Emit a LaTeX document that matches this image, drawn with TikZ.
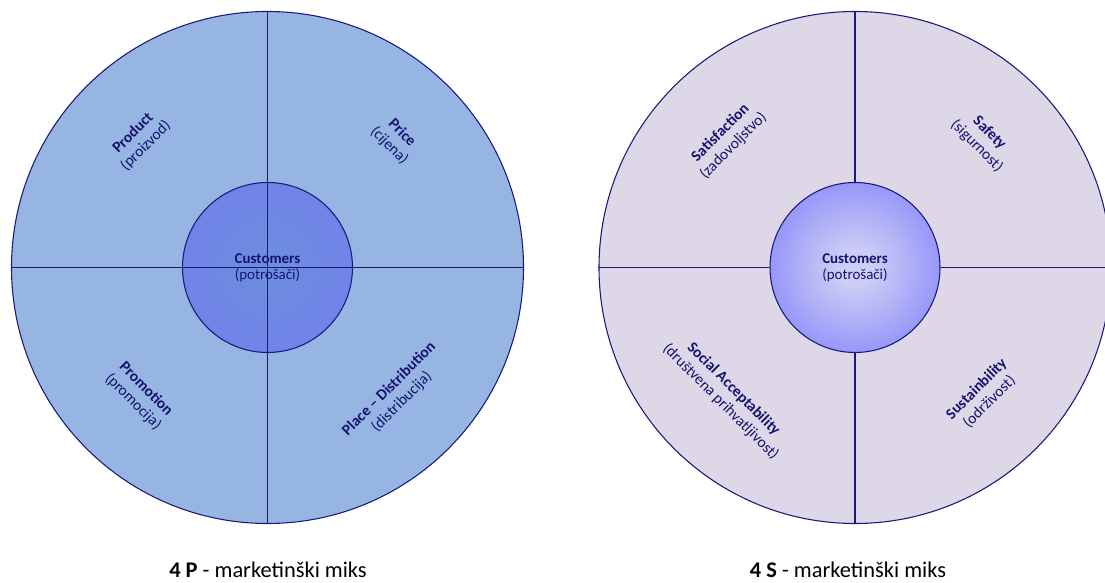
\documentclass[tikz,border=0pt]{standalone}
\usepackage{fontspec}
\setmainfont{Carlito}
\usepackage{tikz}
\usetikzlibrary{positioning}

\definecolor{navyline}{RGB}{25,25,120}
\definecolor{navytext}{RGB}{20,20,110}
\definecolor{ringP}{RGB}{150,181,227}
\definecolor{ringS}{RGB}{221,215,232}
\definecolor{glowPin}{RGB}{108,142,220}
\definecolor{glowPout}{RGB}{118,120,244}
\definecolor{glowSin}{RGB}{205,205,245}
\definecolor{glowSout}{RGB}{84,84,255}
\pgfdeclareradialshading{glowP}{\pgfpointorigin}{color(0bp)=(glowPin); color(50bp)=(glowPout)}
\pgfdeclareradialshading{glowS}{\pgfpointorigin}{color(0bp)=(glowSin); color(5bp)=(glowSin); color(50bp)=(glowSout)}

\begin{document}
\begin{tikzpicture}[x=0.75pt,y=0.75pt,
  ring/.style={circle,draw=navyline,line width=0.8pt,inner sep=0pt,minimum size=384pt},
  hub/.style={circle,draw=navyline,line width=0.8pt,inner sep=0pt,minimum size=127.5pt,
    align=center,text=navytext,font=\fontsize{11.2}{12}\selectfont},
  lbl/.style={align=center,text=navytext,font=\fontsize{11.6}{13.6}\selectfont},
  cross/.style={navyline,line width=1.1pt},
  mixcap/.style={anchor=base,font=\fontsize{16.8}{18}\selectfont}]
\clip (0,0) rectangle (1105,582);
%----4P----%
\node[ring,fill=ringP] (p) at (267.5,314.5) {};
\node[hub,shading=glowP] (pc) at (267.5,314.5) {\textbf{Customers}\\(potrošači)};
\draw[cross] (p.north) -- (p.south);
\draw[cross] (p.west) -- (p.east);
\node[lbl,rotate=45] (prod) at (139.5,442.5) {\textbf{Product}\\(proizvod)};
\node[lbl,rotate=-45] (price) at (395.5,442.5) {\textbf{Price}\\(cijena)};
\node[lbl,rotate=-45] (promo) at (139.5,186.5) {\textbf{Promotion}\\(promocija)};
\node[lbl,rotate=45] (place) at (395.5,186.5) {\textbf{Place – Distribution}\\(distribucija)};
%----4S----%
\node[ring,fill=ringS] (s) at (855,314.5) {};
\node[hub,shading=glowS] (sc) at (855,314.5) {\textbf{Customers}\\(potrošači)};
\draw[cross] (s.north) -- (sc.north);
\draw[cross] (sc.south) -- (s.south);
\draw[cross] (s.west) -- (sc.west);
\draw[cross] (sc.east) -- (s.east);
\node[lbl,rotate=45] (satis) at (727,442.5) {\textbf{Satisfaction}\\(zadovoljstvo)};
\node[lbl,rotate=-45] (safe) at (983,442.5) {\textbf{Safety}\\(sigurnost)};
\node[lbl,rotate=-45] (social) at (727,186.5) {\textbf{Social Acceptability}\\(društvena prihvatljivost)};
\node[lbl,rotate=45] (sustain) at (983,186.5) {\textbf{Sustainbility}\\(održivost)};
%----captions----%
\node[mixcap] (capP) at (268,5) {\textbf{4 P} - marketinški miks};
\node[mixcap] (capS) at (848,5) {\textbf{4 S} - marketinški miks};
\end{tikzpicture}
\end{document}
